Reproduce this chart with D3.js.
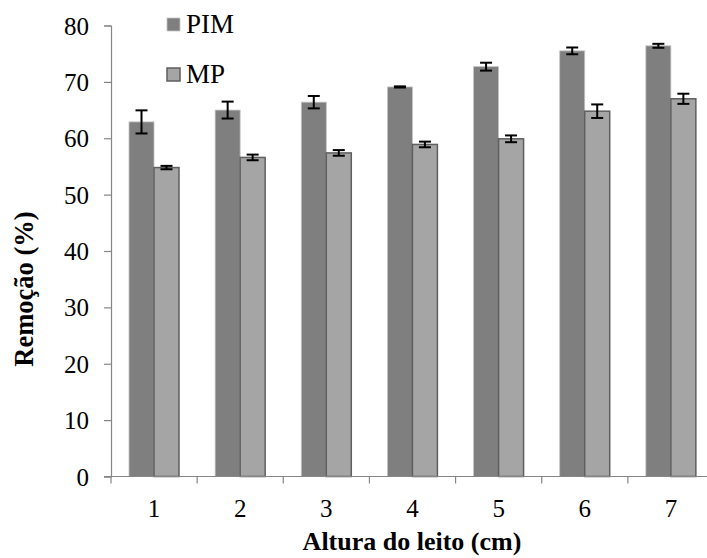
<!DOCTYPE html>
<html>
<head>
<meta charset="utf-8">
<script src="https://cdn.jsdelivr.net/npm/d3@7"></script>
</head>
<body style="margin:0">
<div id="chart"></div>
<script>
// data
const categories = ['1', '2', '3', '4', '5', '6', '7'];
const series = ['PIM', 'MP'];
const pimValues = [62.9, 65.0, 66.4, 69.1, 72.7, 75.5, 76.4];
const pimErrors = [2.05, 1.5, 1.1, 0.1, 0.7, 0.6, 0.35];
const mpValues = [54.8, 56.6, 57.4, 58.9, 59.9, 64.8, 67.0];
const mpErrors = [0.3, 0.5, 0.5, 0.5, 0.6, 1.2, 0.9];
const yTicks = [0, 10, 20, 30, 40, 50, 60, 70, 80];

const width = 707;
const height = 558;
const FONT = "'Liberation Serif'";

const svg = d3.select('#chart')
  .append('svg')
  .attr('width', width)
  .attr('height', height);

// scales
const x = d3.scaleBand()
  .domain(categories)
  .range([111, 714]);

const xSub = d3.scaleBand()
  .domain(series)
  .range([18, 68]);

const y = d3.scaleLinear()
  .domain([0, 80])
  .range([476.5, 25.5]);

const fills = { PIM: '#7f7f7f', MP: '#a5a5a5' };
const strokes = { PIM: '#c4c4c4', MP: '#5f5f5f' };

// rows for bars
const rows = [];
categories.forEach((c, i) => {
  rows.push({ cat: c, key: 'PIM', v: pimValues[i], e: pimErrors[i] });
  rows.push({ cat: c, key: 'MP', v: mpValues[i], e: mpErrors[i] });
});

// bars
svg.append('g')
  .selectAll('rect')
  .data(rows)
  .enter().append('rect')
  .attr('x', (d) => x(d.cat) + xSub(d.key))
  .attr('y', (d) => y(d.v))
  .attr('width', xSub.bandwidth())
  .attr('height', (d) => y(0) - y(d.v))
  .style('fill', (d) => fills[d.key])
  .style('stroke', (d) => strokes[d.key])
  .style('stroke-width', (d) => d.key === 'MP' ? 1.5 : 0.8);

// error bars
const err = svg.append('g')
  .selectAll('g')
  .data(rows)
  .enter().append('g')
  .attr('transform', (d) => `translate(${x(d.cat) + xSub(d.key) + xSub.bandwidth() / 2},0)`)
  .style('stroke', '#000')
  .style('stroke-width', 2);

err.append('line')
  .attr('x1', 0).attr('x2', 0)
  .attr('y1', (d) => y(d.v + d.e))
  .attr('y2', (d) => y(d.v - d.e));
err.append('line')
  .attr('x1', -6).attr('x2', 6)
  .attr('y1', (d) => y(d.v + d.e))
  .attr('y2', (d) => y(d.v + d.e));
err.append('line')
  .attr('x1', -6).attr('x2', 6)
  .attr('y1', (d) => y(d.v - d.e))
  .attr('y2', (d) => y(d.v - d.e));

// y axis
const yAxis = svg.append('g')
  .attr('transform', 'translate(111,0)')
  .call(d3.axisLeft(y).tickValues(yTicks).tickSize(7).tickPadding(15))
  .attr('font-family', null)
  .attr('font-size', null);
yAxis.select('.domain').style('stroke', '#868686').style('stroke-width', 1.2);
yAxis.selectAll('.tick line').style('stroke', '#868686').style('stroke-width', 1.2);
yAxis.selectAll('.tick text')
  .attr('dy', '0.34em')
  .attr('font-size', 25)
  .style('font-family', FONT)
  .style('fill', '#000');

// x axis (ticks between categories)
const xAxis = svg.append('g')
  .attr('transform', `translate(0,${y(0)})`);
xAxis.append('line')
  .attr('x1', 104).attr('x2', 714)
  .attr('y1', 0).attr('y2', 0)
  .style('stroke', '#868686').style('stroke-width', 1.2);
xAxis.selectAll('line.tk')
  .data(categories)
  .enter().append('line')
  .attr('class', 'tk')
  .attr('x1', (d) => x(d)).attr('x2', (d) => x(d))
  .attr('y1', 0).attr('y2', 7)
  .style('stroke', '#868686').style('stroke-width', 1.2);
xAxis.selectAll('text')
  .data(categories)
  .enter().append('text')
  .attr('x', (d) => x(d) + x.bandwidth() / 2)
  .attr('y', 40)
  .attr('text-anchor', 'middle')
  .attr('font-size', 25)
  .style('font-family', FONT)
  .text((d) => d);

// axis titles
svg.append('text')
  .attr('x', 412)
  .attr('y', 550)
  .attr('text-anchor', 'middle')
  .attr('font-size', 26)
  .attr('font-weight', 'bold')
  .style('font-family', FONT)
  .text('Altura do leito (cm)');

svg.append('text')
  .attr('transform', 'translate(33,289) rotate(-90)')
  .attr('text-anchor', 'middle')
  .attr('font-size', 26.5)
  .attr('font-weight', 'bold')
  .style('font-family', FONT)
  .text('Remoção (%)');

// legend
const legend = svg.append('g')
  .selectAll('g')
  .data(series)
  .enter().append('g')
  .attr('transform', (d, i) => `translate(167,${18 + i * 50})`);
legend.append('rect')
  .attr('width', 13).attr('height', 13)
  .style('fill', (d) => fills[d])
  .style('stroke', (d) => strokes[d])
  .style('stroke-width', (d) => d === 'MP' ? 1.5 : 0.8);
legend.append('text')
  .attr('x', 19)
  .attr('y', 15)
  .attr('font-size', 27)
  .style('font-family', FONT)
  .text((d) => d);
</script>
</body>
</html>
